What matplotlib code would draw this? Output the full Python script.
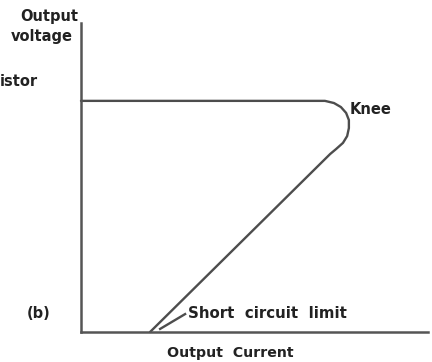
import matplotlib
matplotlib.use("Agg")
import matplotlib.pyplot as plt

# Characteristic curve (current, voltage in arbitrary 0-100 units)
current = [0, 63.1, 70.3, 72.9, 74.9, 76.4, 77.2, 77.2, 76.7, 75.5, 73.5, 71.8, 19.9]
voltage = [74.8, 74.8, 74.8, 74.1, 72.8, 70.9, 68.6, 66.0, 63.4, 61.2, 59.2, 57.6, 0]

leader_x = [22.8, 30.0]
leader_y = [1.0, 5.8]

W, H = 432, 362
fig = plt.figure(figsize=(W / 100, H / 100), dpi=100)
ax = fig.add_axes([81 / W, (H - 332) / H, (428 - 81) / W, (332 - 23) / H])
ax.set_xlim(0, 100)
ax.set_ylim(0, 100)
line_col = "#4d4d4d"
ax.plot(current, voltage, color=line_col, lw=1.7, solid_capstyle="round",
        solid_joinstyle="round", clip_on=False)
ax.plot(leader_x, leader_y, color=line_col, lw=1.7, clip_on=False)

for s in ["top", "right"]:
    ax.spines[s].set_visible(False)
for s in ["left", "bottom"]:
    ax.spines[s].set_color("#555555")
    ax.spines[s].set_linewidth(1.8)
ax.set_xticks([])
ax.set_yticks([])
ax.patch.set_alpha(0)

tc = "#222222"
fkw = dict(fontweight="heavy", color=tc, family="DejaVu Sans")

def ftext(px, py, s, size=10.5, ha="left", va="center"):
    fig.text(px / W, 1 - py / H, s, ha=ha, va=va, fontsize=size, **fkw)

ftext(78, 17, "Output", ha="right")
ftext(73, 36, "voltage", ha="right")
ftext(0, 82, "istor", ha="left")
ftext(350, 110, "Knee")
ftext(27, 313, "(b)")
ftext(188, 313, "Short  circuit  limit", size=10.8)
ftext(230, 353, "Output  Current", ha="center", size=10.2)

fig.savefig("out.png", dpi=100)
